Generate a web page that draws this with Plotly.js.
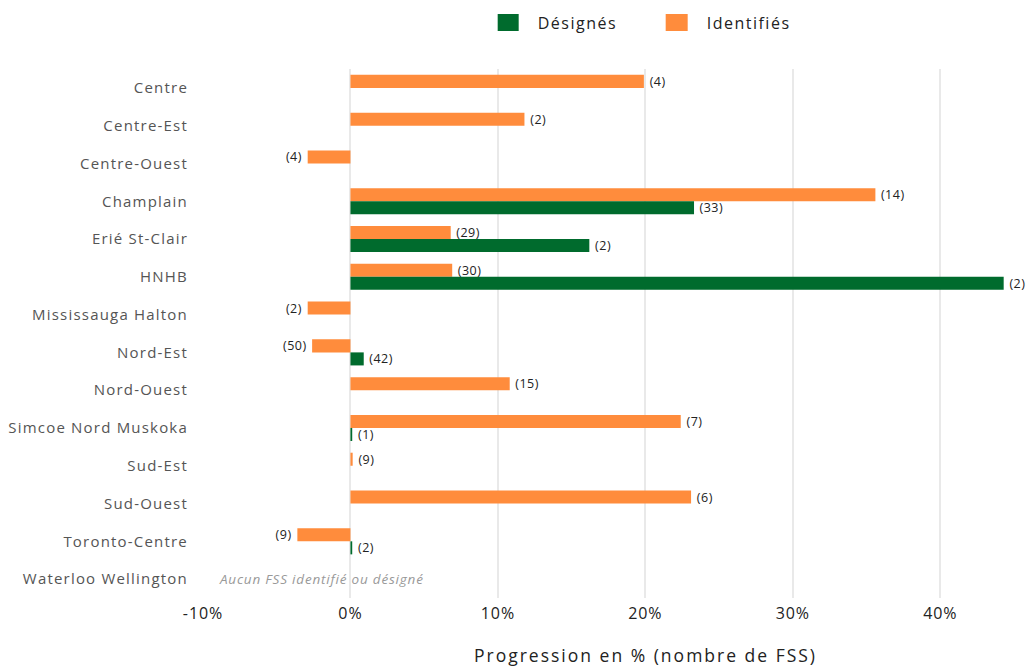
<!DOCTYPE html>
<html>
<head>
<meta charset="utf-8">
<script src="https://cdn.plot.ly/plotly-3.0.1.min.js"></script>
<style>
html,body{margin:0;padding:0;background:#fff;}
#chart{width:1027px;height:666px;}
#chart .ytick text{letter-spacing:1.2px;}
#chart .xtick text{letter-spacing:0.9px;}
#chart .legendtext{letter-spacing:1.5px;}
#chart .annotation[data-index="0"] .annotation-text{letter-spacing:0.8px;}
#chart .annotation[data-index="1"] .annotation-text{letter-spacing:2px;}
#chart .bartext{letter-spacing:0.5px;}
</style>
</head>
<body>
<div id="chart"></div>
<script>
const regions = ["Centre","Centre-Est","Centre-Ouest","Champlain","Erié St-Clair","HNHB","Mississauga Halton","Nord-Est","Nord-Ouest","Simcoe Nord Muskoka","Sud-Est","Sud-Ouest","Toronto-Centre","Waterloo Wellington"];
const identifiesPct = [19.9, 11.8, -2.9, 35.6, 6.8, 6.9, -2.9, -2.6, 10.8, 22.4, 0.15, 23.1, -3.6, null];
const identifiesN = ["(4)","(2)","(4)","(14)","(29)","(30)","(2)","(50)","(15)","(7)","(9)","(6)","(9)",""];
const designesPct = [null, null, null, 23.3, 16.2, 44.3, null, 0.9, null, 0.12, null, null, 0.12, null];
const designesN = ["","","","(33)","(2)","(2)","","(42)","","(1)","","","(2)",""];
const xTickVals = [-10, 0, 10, 20, 30, 40];
const xTickText = ["-10%","0%","10%","20%","30%","40%"];
const noteText = "Aucun FSS identifié ou désigné";
const axisTitle = "Progression en % (nombre de FSS)";

const FONT = "'Open Sans', 'Noto Sans', sans-serif";
const pad = (vals, labels) => labels.map((t, i) => !t ? "" : (vals[i] < 0 ? t + "\u00a0" : "\u00a0" + t));

const traces = [
  {
    type: "bar", orientation: "h", name: "Identifiés",
    y: regions, x: identifiesPct, text: pad(identifiesPct, identifiesN),
    textposition: "outside", constraintext: "none", cliponaxis: false,
    textfont: {family: FONT, size: 12.5, color: "#222"},
    marker: {color: "#FF8C3C"}, hoverinfo: "y+x"
  },
  {
    type: "bar", orientation: "h", name: "Désignés",
    y: regions, x: designesPct, text: pad(designesPct, designesN),
    textposition: "outside", constraintext: "none", cliponaxis: false,
    textfont: {family: FONT, size: 12.5, color: "#222"},
    marker: {color: "#006B2D"}, hoverinfo: "y+x"
  }
];

const layout = {
  width: 1027, height: 666,
  margin: {l: 203, r: 13, t: 69, b: 68},
  paper_bgcolor: "#fff", plot_bgcolor: "#fff",
  font: {family: FONT, color: "#444"},
  barmode: "group", bargap: 0.31, bargroupgap: 0,
  showlegend: true,
  legend: {orientation: "h", traceorder: "reversed", x: 0.4846, xanchor: "left", xref: "container",
           y: 0.966, yanchor: "middle", yref: "container", entrywidth: 124, entrywidthmode: "pixels",
           font: {family: FONT, size: 16, color: "#222"}},
  xaxis: {
    range: [-10, 45], tickvals: xTickVals, ticktext: xTickText,
    showgrid: true, gridcolor: "#e9e9e9", gridwidth: 2, zeroline: false,
    showline: false, ticks: "", ticklabelstandoff: 4,
    tickfont: {family: FONT, size: 16, color: "#222"}
  },
  yaxis: {
    autorange: "reversed", type: "category",
    showgrid: false, zeroline: false, showline: false, ticks: "",
    ticklabelstandoff: 14,
    tickfont: {family: FONT, size: 15, color: "#555"}
  },
  annotations: [
    {text: noteText, x: -1.97, xref: "x", xanchor: "center", y: "Waterloo Wellington", yref: "y",
     showarrow: false, font: {family: FONT, size: 13.5, color: "#999", style: "italic"}},
    {text: axisTitle, x: 20, xref: "x", xanchor: "center", y: 0, yref: "paper", yshift: -57, yanchor: "middle",
     showarrow: false, font: {family: FONT, size: 17.5, color: "#222"}}
  ]
};

Plotly.newPlot("chart", traces, layout, {displayModeBar: false, staticPlot: true}).then(function () {
  document.querySelectorAll("#chart .legendpoints path").forEach(function (p) {
    p.setAttribute("d", "M1,8.5H-21V-8.5H1Z");
  });
});
</script>
</body>
</html>
